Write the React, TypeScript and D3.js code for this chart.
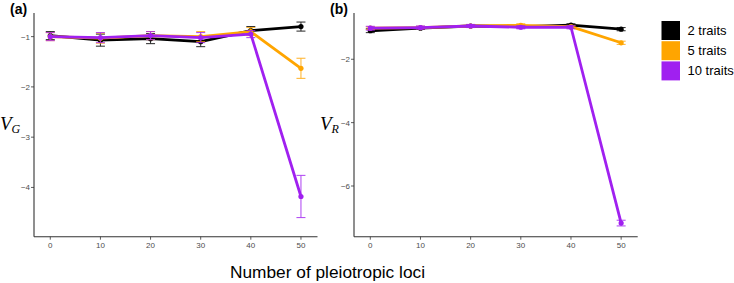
import React from "react";
import * as d3 from "d3";

const lociCounts = [0, 10, 20, 30, 40, 50];
const xTicks = [0, 10, 20, 30, 40, 50];

const seriesNames = ["2 traits", "5 traits", "10 traits"];
const seriesColors = ["#000000", "#FFA500", "#A020F0"];

// Panel (a): V_G
const vg2 = [-0.98, -1.07, -1.04, -1.1, -0.88, -0.8];
const vg2Err = [0.08, 0.12, 0.1, 0.1, 0.08, 0.09];
const vg5 = [-1.0, -1.03, -0.98, -1.0, -0.9, -1.63];
const vg5Err = [0.08, 0.1, 0.08, 0.1, 0.08, 0.2];
const vg10 = [-1.0, -1.02, -0.98, -1.02, -0.95, -4.18];
const vg10Err = [0.08, 0.1, 0.08, 0.1, 0.07, 0.42];
const vgTicks = [-1, -2, -3, -4];

// Panel (b): V_R
const vr2 = [-1.1, -1.02, -0.95, -0.97, -0.92, -1.05];
const vr2Err = [0.06, 0.04, 0.04, 0.04, 0.04, 0.05];
const vr5 = [-1.02, -1.0, -0.95, -0.93, -0.97, -1.48];
const vr5Err = [0.04, 0.04, 0.04, 0.05, 0.04, 0.05];
const vr10 = [-1.02, -1.0, -0.95, -0.99, -0.99, -7.17];
const vr10Err = [0.06, 0.05, 0.05, 0.05, 0.05, 0.09];
const vrTicks = [-2, -4, -6];

type Panel = {
  label: string;
  ySym: string;
  ySub: string;
  values: number[][];
  errs: number[][];
  yTicks: number[];
  yDomain: [number, number];
  left: number;
  right: number;
};

const TOP = 13;
const BOTTOM = 236.7;

const panels: Panel[] = [
  {
    label: "(a)",
    ySym: "V",
    ySub: "G",
    values: [vg2, vg5, vg10],
    errs: [vg2Err, vg5Err, vg10Err],
    yTicks: vgTicks,
    yDomain: [-0.53, -4.98],
    left: 34,
    right: 317.5,
  },
  {
    label: "(b)",
    ySym: "V",
    ySub: "R",
    values: [vr2, vr5, vr10],
    errs: [vr2Err, vr5Err, vr10Err],
    yTicks: vrTicks,
    yDomain: [-0.54, -7.6],
    left: 354,
    right: 637.7,
  },
];

const fmt = (v: number) => (v < 0 ? "\u2212" + Math.abs(v) : String(v));

function PanelView({ p }: { p: Panel }) {
  const x = d3.scaleLinear().domain([-3.25, 53.3]).range([p.left, p.right]);
  const y = d3.scaleLinear().domain(p.yDomain).range([TOP, BOTTOM]);
  const line = d3
    .line<number>()
    .x((_, i) => x(lociCounts[i]))
    .y((d) => y(d));
  return (
    <g>
      {/* axes */}
      <line x1={p.left} x2={p.left} y1={TOP} y2={BOTTOM} stroke="#333" strokeWidth={1.1} />
      <line x1={p.left} x2={p.right} y1={BOTTOM} y2={BOTTOM} stroke="#333" strokeWidth={1.1} />
      {xTicks.map((t) => (
        <g key={"x" + t}>
          <line x1={x(t)} x2={x(t)} y1={BOTTOM} y2={BOTTOM + 3} stroke="#333" strokeWidth={0.8} />
          <text
            x={x(t)}
            y={BOTTOM + 11}
            textAnchor="middle"
            fontSize={8}
            fill="#4d4d4d"
            fontFamily="Liberation Sans, Arial, sans-serif"
          >
            {t}
          </text>
        </g>
      ))}
      {p.yTicks.map((t) => (
        <g key={"y" + t}>
          <line x1={p.left - 3} x2={p.left} y1={y(t)} y2={y(t)} stroke="#333" strokeWidth={0.8} />
          <text
            x={p.left - 4}
            y={y(t) + 3}
            textAnchor="end"
            fontSize={8}
            fill="#4d4d4d"
            fontFamily="Liberation Sans, Arial, sans-serif"
          >
            {fmt(t)}
          </text>
        </g>
      ))}
      {/* series */}
      {p.values.map((vals, si) => (
        <g key={"s" + si}>
          <path d={line(vals) || ""} fill="none" stroke={seriesColors[si]} strokeWidth={2.8} strokeLinejoin="round" />
          {vals.map((v, i) => {
            const e = p.errs[si][i];
            const cx = x(lociCounts[i]);
            return (
              <g key={i} stroke={seriesColors[si]} strokeWidth={1} opacity={0.85}>
                <line x1={cx} x2={cx} y1={y(v + e)} y2={y(v - e)} />
                <line x1={cx - 4.5} x2={cx + 4.5} y1={y(v + e)} y2={y(v + e)} />
                <line x1={cx - 4.5} x2={cx + 4.5} y1={y(v - e)} y2={y(v - e)} />
              </g>
            );
          })}
          {vals.map((v, i) => (
            <circle key={"c" + i} cx={x(lociCounts[i])} cy={y(v)} r={2.6} fill={seriesColors[si]} />
          ))}
        </g>
      ))}
      {/* panel label */}
      <text
        x={p.left - 24}
        y={14}
        fontSize={14}
        fontWeight="bold"
        fill="#000"
        fontFamily="Liberation Sans, Arial, sans-serif"
      >
        {p.label}
      </text>
      {/* y axis title */}
      <text
        x={p.left - 34}
        y={130}
        fontSize={19}
        fontStyle="italic"
        fill="#000"
        fontFamily="Liberation Serif, DejaVu Serif, serif"
      >
        {p.ySym}
        <tspan fontSize={12} dy={3}>
          {p.ySub}
        </tspan>
      </text>
    </g>
  );
}

export default function App() {
  return (
    <svg width={734} height={283} style={{ position: "absolute", left: 0, top: 0, background: "#fff" }}>
      <rect width={734} height={283} fill="#fff" />
      {panels.map((p, i) => (
        <PanelView key={i} p={p} />
      ))}
      {/* legend */}
      {seriesNames.map((n, i) => (
        <g key={n}>
          <rect x={661.5} y={21 + i * 20.2} width={18.5} height={19} fill={seriesColors[i]} />
          <text
            x={687.5}
            y={35 + i * 20.2}
            fontSize={13}
            fill="#000"
            fontFamily="Liberation Sans, Arial, sans-serif"
          >
            {n}
          </text>
        </g>
      ))}
      <text
        x={327.5}
        y={278}
        textAnchor="middle"
        fontSize={17.3}
        fill="#000"
        fontFamily="Liberation Sans, Arial, sans-serif"
      >
        Number of pleiotropic loci
      </text>
    </svg>
  );
}
